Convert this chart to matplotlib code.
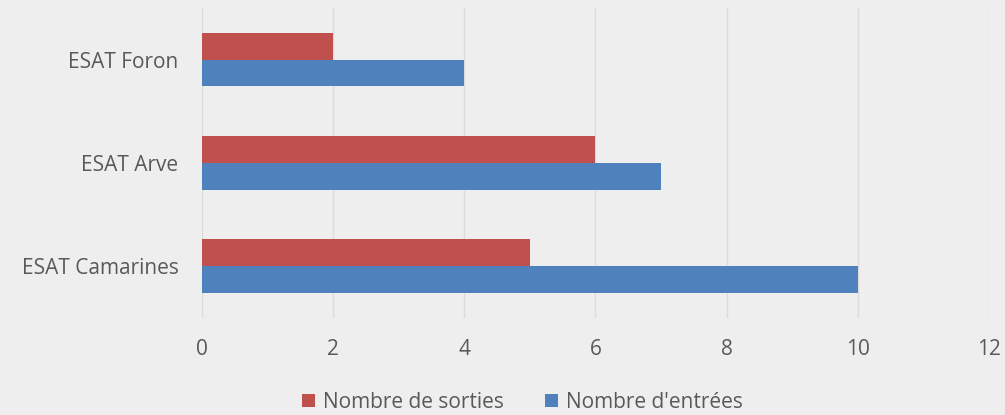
import numpy as np
import matplotlib.pyplot as plt

# Data
categories = ['ESAT Camarines', 'ESAT Arve', 'ESAT Foron']
sorties = [5, 6, 2]
entrees = [10, 7, 4]
x_ticks = [0, 2, 4, 6, 8, 10, 12]

plt.rcParams['font.family'] = ['Open Sans', 'DejaVu Sans']
bg = '#eeeeee'
txt = '#595959'

fig = plt.figure(figsize=(10.05, 4.15), dpi=100, facecolor=bg)
ax = fig.add_axes([0.201, 0.234, 0.783, 0.747], facecolor=bg)

y = np.arange(len(categories))
h = 0.26
ax.barh(y + h / 2, sorties, height=h, color='#c0504d', label='Nombre de sorties', zorder=3)
ax.barh(y - h / 2, entrees, height=h, color='#4f81bd', label="Nombre d'entrées", zorder=3)

ax.set_xlim(0, 12)
ax.set_ylim(-0.5, 2.5)
ax.set_xticks(x_ticks)
ax.set_yticks(y)
ax.set_yticklabels(categories)
ax.tick_params(axis='both', length=0, labelsize=15, colors=txt)
ax.tick_params(axis='y', pad=17)
ax.tick_params(axis='x', pad=15)
ax.grid(axis='x', color='#dcdcdc', linewidth=1, zorder=0)
for s in ax.spines.values():
    s.set_visible(False)

fig.legend(loc='center', bbox_to_anchor=(0.52, 0.03), ncol=2, frameon=False,
           fontsize=15, labelcolor=txt, handlelength=0.6, handleheight=0.6,
           handletextpad=0.4, columnspacing=2.0)

plt.savefig('out.png', dpi=100, facecolor=bg)
